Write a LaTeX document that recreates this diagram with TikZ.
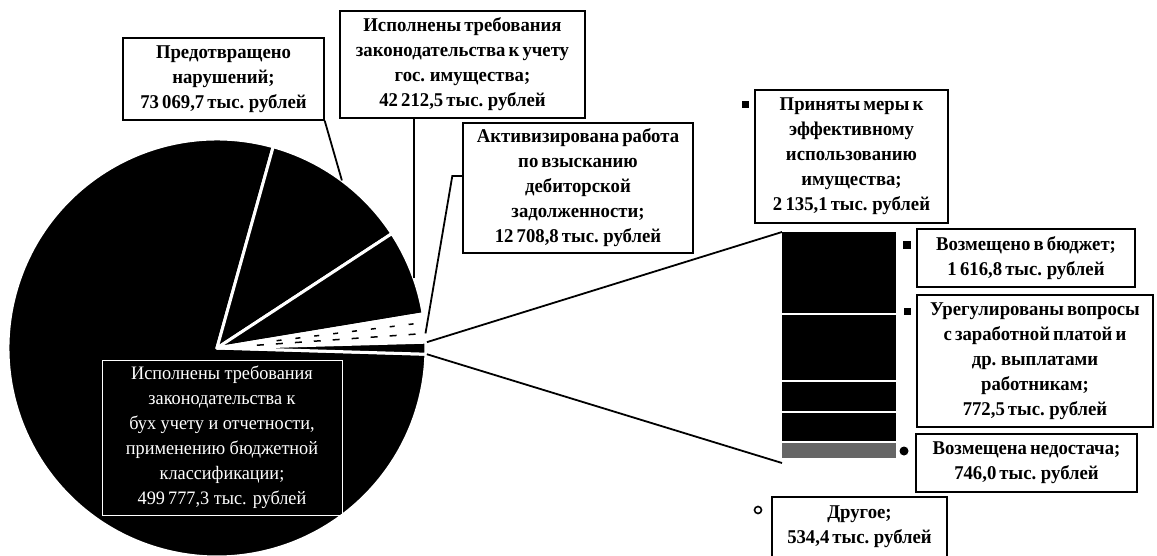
\documentclass[tikz,border=0pt]{standalone}
\usepackage{fontspec}
\setmainfont{Liberation Serif}[FakeStretch=0.96]
\usetikzlibrary{calc}
\newcommand\lblfont{\bfseries\fontsize{19.5}{25}\selectfont\spaceskip=0.16em plus 0.05em\relax}

\begin{document}
\begin{tikzpicture}[x=1pt,y=-1pt,
    lbl/.style={draw,line width=1.4pt,fill=white,align=center,inner sep=1pt,font=\lblfont},
    mainlbl/.style={draw=white,line width=1pt,text=white,align=center,inner sep=1pt,
      font=\fontsize{19}{25}\selectfont},
    slice/.style={fill=black,draw=white,line width=3pt,line join=round},
    seg/.style={fill=black,inner sep=0pt,outer sep=0pt,minimum width=114pt,anchor=north west},
    keysq/.style={fill=black,inner sep=0pt,minimum size=7pt},
    keydot/.style={circle,fill=black,inner sep=0pt,minimum size=9pt},
    leader/.style={line width=1.8pt}]
  \fill[white] (0,0) rectangle (1157,555);
  \useasboundingbox (0,0) rectangle (1157,555);

  \coordinate (c) at (217,348);
  \begin{scope}
    \filldraw[slice] (c) -- ++(-74.4:209) arc[start angle=-74.4,end angle=-358.3,radius=209] -- cycle;
    \filldraw[slice] (c) -- ++(-74.4:209) arc[start angle=-74.4,end angle=-33.2,radius=209] -- cycle;
    \filldraw[slice] (c) -- ++(-33.2:209) arc[start angle=-33.2,end angle=-9.4,radius=209] -- cycle;
    \filldraw[slice,fill=white] (c) -- ++(-9.4:209) arc[start angle=-9.4,end angle=-1.6,radius=209] -- cycle;
    \filldraw[slice] (c) -- ++(-1.6:209) arc[start angle=-1.6,end angle=1.7,radius=209] -- cycle;
    \draw[line width=1.5pt,dash pattern=on 7pt off 12pt] ($(c)+(-4:40)$) -- ($(c)+(-4:200)$);
    \draw[line width=1.5pt,dash pattern=on 5pt off 14pt] ($(c)+(-7:60)$) -- ($(c)+(-7:200)$);
  \end{scope}

  \coordinate (p2) at ($(c)+(-53.3:209)$);
  \coordinate (p3) at ($(c)+(-19.5:209)$);
  \coordinate (p4) at ($(c)+(-4:209)$);
  \coordinate (q1) at ($(c)+(-1.6:210)$);
  \coordinate (q2) at ($(c)+(1.7:210)$);

  \node[mainlbl,minimum width=240pt,minimum height=155pt] (a0) at (222,437.5)
    {Исполнены требования\\законодательства к\\бух учету и отчетности,\\применению бюджетной\\классификации;\\499\,777,3 тыс. рублей};
  \node[lbl,minimum width=201pt,minimum height=82pt] (a1) at (223.5,79)
    {Предотвращено\\нарушений;\\73\,069,7 тыс. рублей};
  \node[lbl,minimum width=245pt,minimum height=107pt] (a2) at (462.5,64.5)
    {Исполнены требования\\законодательства к учету\\гос. имущества;\\42\,212,5 тыс. рублей};
  \node[lbl,minimum width=230pt,minimum height=130pt] (a3) at (578,188)
    {Активизирована работа\\по взысканию\\дебиторской\\задолженности;\\12\,708,8 тыс. рублей};

  \draw[leader] (a1.south east) -- (p2);
  \draw[leader] (a2.south -| p3) -- (p3);
  \draw[leader] ([yshift=12pt]a3.west) -- ++(-10,0) -- (p4);

  \node[seg,minimum height=81pt] (s1) at (782,232) {};
  \node[seg,minimum height=65pt] (s2) at (782,315) {};
  \node[seg,minimum height=29pt] (s3) at (782,382) {};
  \node[seg,minimum height=28pt] (s4) at (782,413) {};
  \node[seg,minimum height=15pt,fill=black!60] (s5) at (782,443) {};

  \draw[leader] (q1) -- (s1.north west);
  \draw[leader] (q2) -- ([yshift=-5pt]s5.south west);

  \node[lbl,minimum width=193pt,minimum height=133pt] (b1) at (851.5,156.5)
    {Приняты меры к\\эффективному\\использованию\\имущества;\\2\,135,1 тыс. рублей};
  \node[lbl,minimum width=218pt,minimum height=58pt] (b2) at (1026,258)
    {Возмещено в бюджет;\\1\,616,8 тыс. рублей};
  \node[lbl,minimum width=236pt,minimum height=132pt] (b3) at (1035,361)
    {Урегулированы вопросы\\с заработной платой и\\др. выплатами\\работникам;\\772,5 тыс. рублей};
  \node[lbl,minimum width=221pt,minimum height=58pt] (b4) at (1026.5,463)
    {Возмещена недостача;\\746,0 тыс. рублей};
  \node[lbl,minimum width=175pt,minimum height=60pt] (b5) at (859.5,527)
    {Другое;\\534,4 тыс. рублей};

  \node[keysq] (k1) at (745,104) {};
  \node[keysq,minimum size=8pt] (k2) at (907,245) {};
  \node[keysq] (k3) at (907,311) {};
  \node[keydot] (k4) at (904,451) {};
  \node[keydot,fill=white,draw=black,line width=1.6pt,minimum size=7pt] (k5) at (758,510) {};
\end{tikzpicture}
\end{document}
